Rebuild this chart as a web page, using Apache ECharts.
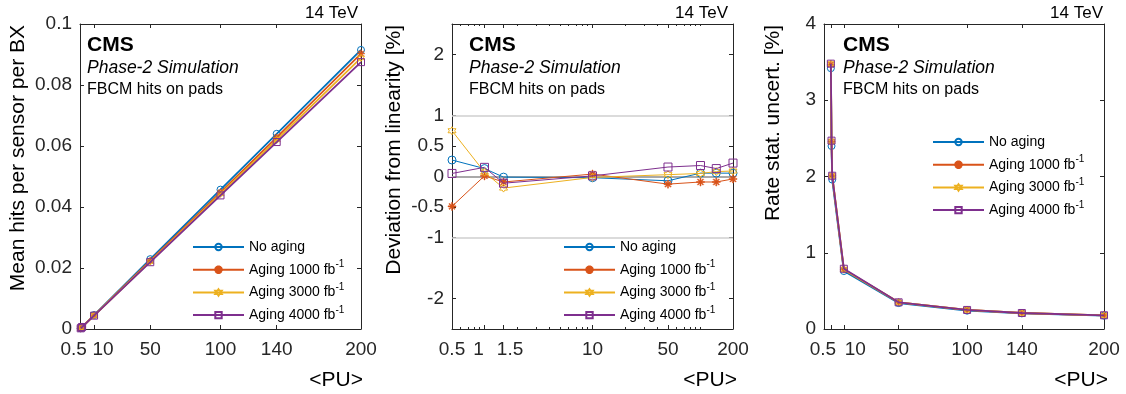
<!DOCTYPE html>
<html>
<head>
<meta charset="utf-8">
<script src="https://cdn.jsdelivr.net/npm/echarts@6/dist/echarts.min.js"></script>
<style>
  html, body { margin: 0; padding: 0; background: #fff; }
  #chart { width: 1126px; height: 394px; }
</style>
</head>
<body>
<div id="chart"></div>
<script>
// pile-up values, shared by all three panels
const PU = [0.5, 1, 1.5, 10, 50, 100, 140, 200];
const NAMES = ["No aging", "Aging 1000 fb-1", "Aging 3000 fb-1", "Aging 4000 fb-1"];

// left: mean hits per sensor per BX
const hitsNoAging = [0.00023, 0.00046, 0.00069, 0.00457, 0.0229, 0.0457, 0.0640, 0.0915];
const hits1000 = [0.00023, 0.00045, 0.00068, 0.00448, 0.0224, 0.0448, 0.0628, 0.0903];
const hits3000 = [0.00022, 0.00045, 0.00067, 0.00443, 0.0221, 0.0443, 0.0620, 0.0889];
const hits4000 = [0.00022, 0.00044, 0.00066, 0.00438, 0.0219, 0.0438, 0.0613, 0.0875];

// middle: deviation from linearity [%]
const devNoAging = [0.27, 0.13, -0.01, -0.02, -0.07, 0.055, 0.055, 0.055];
const dev1000 = [-0.49, 0.01, -0.09, 0.04, -0.125, -0.09, -0.09, -0.04];
const dev3000 = [0.75, 0.07, -0.19, -0.015, 0.03, 0.05, 0.08, 0.09];
const dev4000 = [0.05, 0.15, -0.11, 0.01, 0.155, 0.18, 0.13, 0.22];

// right: rate stat. uncertainty [%]
const uncNoAging = [3.42, 2.40, 1.96, 0.76, 0.34, 0.24, 0.205, 0.175];
const unc1000 = [3.47, 2.46, 2.01, 0.78, 0.35, 0.25, 0.21, 0.18];
const unc3000 = [3.48, 2.46, 2.01, 0.78, 0.35, 0.25, 0.21, 0.18];
const unc4000 = [3.48, 2.47, 2.01, 0.79, 0.35, 0.25, 0.21, 0.18];

// tick labels
const linTicks = [0.5, 10, 50, 100, 140, 200];
const logTicks = [0.5, 1, 1.5, 10, 50, 200];
const logMinorTicks = [0.6, 0.7, 0.8, 0.9, 2, 3, 4, 5, 6, 7, 8, 9, 20, 30, 40, 60, 70, 80, 90, 100];
const hitsTicks = [0, 0.02, 0.04, 0.06, 0.08, 0.1];
const devTicks = [-2, -1, -0.5, 0, 0.5, 1, 2];
const uncTicks = [0, 1, 2, 3, 4];

const COLORS = ["#0072BD", "#D95319", "#EDB120", "#7E2F8E"];
const FONT = "Liberation Sans";
const AX = "#262626";

// marker shapes (MATLAB o * hexagram s)
function starPath(n, rOut, rIn) {
  let d = "";
  for (let k = 0; k < 2 * n; k++) {
    const a = -Math.PI / 2 + (k * Math.PI) / n;
    const r = k % 2 ? rIn : rOut;
    d += (k ? "L" : "M") + (r * Math.cos(a)).toFixed(3) + "," + (r * Math.sin(a)).toFixed(3);
  }
  return d + "Z";
}
function asteriskPath() {
  let d = "";
  const w = 0.13;
  [0, 45, 90, 135].forEach(deg => {
    const a = (deg * Math.PI) / 180;
    const c = Math.cos(a), s = Math.sin(a);
    const pts = [[-1, -w], [1, -w], [1, w], [-1, w]].map(([x, y]) => [x * c - y * s, x * s + y * c]);
    d += pts.map((p, i) => (i ? "L" : "M") + p[0].toFixed(3) + "," + p[1].toFixed(3)).join("") + "Z";
  });
  return d;
}
const SYMBOLS = ["circle", "path://" + asteriskPath(), "path://" + starPath(6, 1, 0.58), "rect"];
const HOLLOW = [true, false, true, true];

const zip = vals => PU.map((x, i) => [x, vals[i]]);

const panels = [
  { left: 80, width: 281, ymin: 0, ymax: 0.1, yTicks: hitsTicks, data: [hitsNoAging, hits1000, hits3000, hits4000],
    log: false, xmin: 0, lw: 1.8, size: 7, ytitle: "Mean hits per sensor per BX", ytx: 18,
    tev: 358, cms: 87, pu: 363, legLeft: 192, legTop: 237,
    shift: { 0.5: 18, 10: -14 } },
  { left: 452, width: 281, ymin: -2.5, ymax: 2.5, yTicks: devTicks, data: [devNoAging, dev1000, dev3000, dev4000],
    log: true, xmin: 0.5, lw: 1, size: 8, ytitle: "Deviation from linearity [%]", ytx: 394,
    tev: 728, cms: 469, pu: 737, legLeft: 563, legTop: 237,
    shift: { 1: 12, 1.5: -13 } },
  { left: 824, width: 280, ymin: 0, ymax: 4, yTicks: uncTicks, data: [uncNoAging, unc1000, unc3000, unc4000],
    log: false, xmin: -4.5, lw: 1.8, size: 7, ytitle: "Rate stat. uncert. [%]", ytx: 773,
    tev: 1103, cms: 843, pu: 1108, legLeft: 932, legTop: 132,
    shift: { 0.5: 23, 10: -16 } }
];

const grid = [], xAxis = [], yAxis = [], series = [], legend = [], graphic = [];
const labelFont = { fontFamily: FONT, fontSize: 19, color: AX };

panels.forEach((p, gi) => {
  grid.push({ left: p.left, top: 24, width: p.width, height: 305 });
  const xType = p.log ? "log" : "value";
  const major = p.log ? logTicks : linTicks;
  const xBase = { gridIndex: gi, type: xType, min: p.xmin, max: 200, splitLine: { show: false }, axisPointer: { show: false } };
  if (p.log) xBase.logBase = 10;
  // bottom axis with labels
  xAxis.push(Object.assign({}, xBase, {
    position: "bottom",
    axisLine: { show: true, onZero: false, lineStyle: { color: AX, width: 1 } },
    axisTick: { show: true, inside: true, length: 4, customValues: major, lineStyle: { color: AX } },
    axisLabel: {
      show: true, customValues: major, margin: 11, ...labelFont,
      formatter: v => {
        const s = p.shift[v];
        if (s > 0) return "{l|" + v + "}";
        if (s < 0) return "{r|" + v + "}";
        return String(v);
      },
      rich: {
        l: { ...labelFont, padding: [0, Math.abs(Object.values(p.shift)[0]), 0, 0] },
        r: { ...labelFont, padding: [0, 0, 0, Math.abs(Object.values(p.shift)[1])] }
      }
    }
  }));
  // top axis (box)
  xAxis.push(Object.assign({}, xBase, {
    position: "top",
    axisLine: { show: true, onZero: false, lineStyle: { color: AX, width: 1 } },
    axisTick: { show: true, inside: true, length: 4, customValues: major, lineStyle: { color: AX } },
    axisLabel: { show: false }
  }));
  if (p.log) {
    ["bottom", "top"].forEach(pos => xAxis.push(Object.assign({}, xBase, {
      position: pos,
      axisLine: { show: false, onZero: false },
      axisTick: { show: true, inside: true, length: 2, customValues: logMinorTicks, lineStyle: { color: AX } },
      axisLabel: { show: false }
    })));
  }
  const yBase = { gridIndex: gi, type: "value", min: p.ymin, max: p.ymax, splitLine: { show: false } };
  yAxis.push(Object.assign({}, yBase, {
    position: "left",
    axisLine: { show: true, onZero: false, lineStyle: { color: AX, width: 1 } },
    axisTick: { show: true, inside: true, length: 4, customValues: p.yTicks, lineStyle: { color: AX } },
    axisLabel: { show: true, customValues: p.yTicks, margin: 8, ...labelFont }
  }));
  yAxis.push(Object.assign({}, yBase, {
    position: "right",
    axisLine: { show: true, onZero: false, lineStyle: { color: AX, width: 1 } },
    axisTick: { show: true, inside: true, length: 4, customValues: p.yTicks, lineStyle: { color: AX } },
    axisLabel: { show: false }
  }));

  const xIdx = xAxis.findIndex(a => a.gridIndex === gi);
  const yIdx = yAxis.findIndex(a => a.gridIndex === gi);
  p.data.forEach((vals, si) => {
    const c = COLORS[si];
    const s = {
      name: NAMES[si], type: "line", xAxisIndex: xIdx, yAxisIndex: yIdx,
      data: zip(vals), symbol: SYMBOLS[si], symbolSize: p.size, showAllSymbol: true,
      lineStyle: { color: c, width: p.lw },
      itemStyle: HOLLOW[si]
        ? { color: "rgba(255,255,255,0)", borderColor: c, borderWidth: 1 }
        : { color: c, borderColor: c, borderWidth: 0.5 },
      emphasis: { disabled: true }, z: 3 + si
    };
    if (p.log && si === 0) {
      s.markLine = {
        silent: true, symbol: ["none", "none"], label: { show: false }, z: 1,
        data: [
          { yAxis: 1, lineStyle: { color: "#cfcfcf", width: 1.5, type: "solid" } },
          { yAxis: -1, lineStyle: { color: "#cfcfcf", width: 1.5, type: "solid" } },
          { yAxis: 0, lineStyle: { color: "#a9a9a9", width: 2, type: "solid" } }
        ]
      };
    }
    series.push(s);
  });

  legend.push({
    data: NAMES, orient: "vertical", left: p.legLeft, top: p.legTop, padding: 0,
    itemWidth: 51, itemHeight: 8, itemGap: 2.7, selectedMode: false,
    textStyle: {
      fontFamily: FONT, fontSize: 14, color: "#000", lineHeight: 20,
      rich: { sup: { fontFamily: FONT, fontSize: 10, color: "#000", verticalAlign: "top", lineHeight: 10 } }
    },
    formatter: n => n.replace("fb-1", "fb{sup|-1}")
  });

  const txt = (x, y, text, font, align, extra) => Object.assign({
    type: "text", x: x, y: y, silent: true,
    style: { text: text, font: font, fill: "#000", align: align, verticalAlign: "middle" }
  }, extra || {});
  graphic.push(txt(p.tev, 13, "14 TeV", "17px " + FONT, "right"));
  graphic.push(txt(p.cms, 45, "CMS", "bold 21px " + FONT, "left"));
  graphic.push(txt(p.cms, 68, "Phase-2 Simulation", "italic 17.5px " + FONT, "left"));
  graphic.push(txt(p.cms, 90, "FBCM hits on pads", "16px " + FONT, "left"));
  graphic.push(txt(p.pu, 380, "<PU>", "21px " + FONT, "right"));
  graphic.push(txt(p.ytx, 25, p.ytitle, "21px " + FONT, "right", { rotation: Math.PI / 2 }));
});

const chart = echarts.init(document.getElementById("chart"), null, { renderer: "canvas" });
chart.setOption({
  animation: false,
  backgroundColor: "#fff",
  grid, xAxis, yAxis, series, legend, graphic
});
</script>
</body>
</html>
